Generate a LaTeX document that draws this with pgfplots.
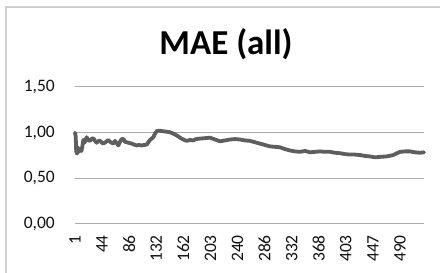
\documentclass[border=0pt]{standalone}
\usepackage{fontspec}
\setmainfont{Carlito}
\usepackage{pgfplots}
\pgfplotsset{compat=1.18}
\definecolor{lineC}{HTML}{5E5E5E}
\definecolor{gridC}{HTML}{AAAAAA}
\definecolor{borderC}{HTML}{D0D0D0}
\definecolor{txtC}{HTML}{111111}
\begin{document}
\begin{tikzpicture}[x=1pt,y=1pt]
\path[use as bounding box, clip] (-75,-49) rectangle (365,224);
\fill[white] (-75,-49) rectangle (365,224);
\draw[borderC, line width=1.2pt] (-69,-80) rectangle (380,217);
\begin{axis}[
  at={(0,0)}, anchor=origin,
  scale only axis, width=349pt, height=137pt,
  xmin=0, xmax=349, ymin=0, ymax=1.5,
  ytick={0,0.5,1,1.5},
  xtick={0,27.08,54.17,81.25,108.33,135.42,162.5,189.58,216.67,243.75,270.83,297.92,325},
  xticklabels={1,44,86,132,162,203,240,286,332,368,403,447,490},
  x tick label style={rotate=90, anchor=east, font=\fontsize{17.5}{17.5}\selectfont, text=txtC, inner sep=0pt},
  y tick label style={font=\fontsize{17.5}{17.5}\selectfont, text=txtC, inner sep=0pt},
  xticklabel shift=11pt,
  yticklabel shift=20pt,
  /pgf/number format/assume math mode=true,
  /pgf/number format/.cd, fixed, fixed zerofill, precision=2, use comma, /pgfplots/.cd,
  axis line style={draw=none},
  major tick length=0pt,
  ymajorgrids, grid style={gridC, line width=1pt},
  clip=false,
]
\addplot[lineC, line width=3.8pt, line join=round, line cap=round] coordinates {
(0,1.00)(0.7,0.96)(1.2,0.80)(2,0.77)(2.8,0.84)(3.5,0.79)(4.5,0.80)(5.5,0.82)(6.5,0.80)(7.5,0.86)(8.3,0.92)(9.5,0.89)(11.7,0.95)(13,0.92)(15,0.91)(16.5,0.93)(18.3,0.94)(20,0.91)(21.7,0.89)(23.5,0.91)(25,0.91)(27,0.89)(28.3,0.88)(31,0.90)(33.3,0.92)(35,0.90)(36.7,0.89)(38.3,0.88)(40,0.91)(42,0.88)(43.3,0.86)(45,0.90)(46.7,0.93)(48.5,0.93)(50,0.90)(53.3,0.89)(56.7,0.88)(59,0.87)(61.7,0.86)(64,0.865)(66.7,0.86)(69,0.865)(71.7,0.87)(75,0.92)(78.3,0.95)(80,0.99)(82,1.02)(85,1.02)(88.3,1.015)(92,1.01)(95,1.005)(98,0.99)(101.7,0.97)(105,0.945)(108.3,0.925)(111.7,0.91)(115,0.92)(118.3,0.915)(121,0.93)(125,0.935)(130,0.94)(135,0.945)(140,0.925)(145,0.905)(150,0.915)(155,0.925)(160,0.93)(165,0.925)(170,0.915)(175,0.91)(180,0.895)(185,0.88)(190,0.865)(195,0.85)(200,0.845)(205,0.84)(210,0.82)(215,0.805)(220,0.795)(225,0.79)(230,0.80)(235,0.785)(240,0.79)(245,0.795)(250,0.79)(255,0.79)(260,0.78)(265,0.775)(270,0.765)(275,0.76)(280,0.76)(285,0.755)(290,0.745)(295,0.74)(300,0.73)(305,0.735)(311.7,0.74)(318.3,0.755)(322,0.775)(325,0.79)(330,0.795)(335,0.795)(340,0.785)(345,0.78)(349,0.785)
};
\end{axis}
\node[anchor=base, font=\bfseries\fontsize{35}{35}\selectfont, text=black, inner sep=0pt] at (151,169) {MAE (all)};
\end{tikzpicture}
\end{document}
